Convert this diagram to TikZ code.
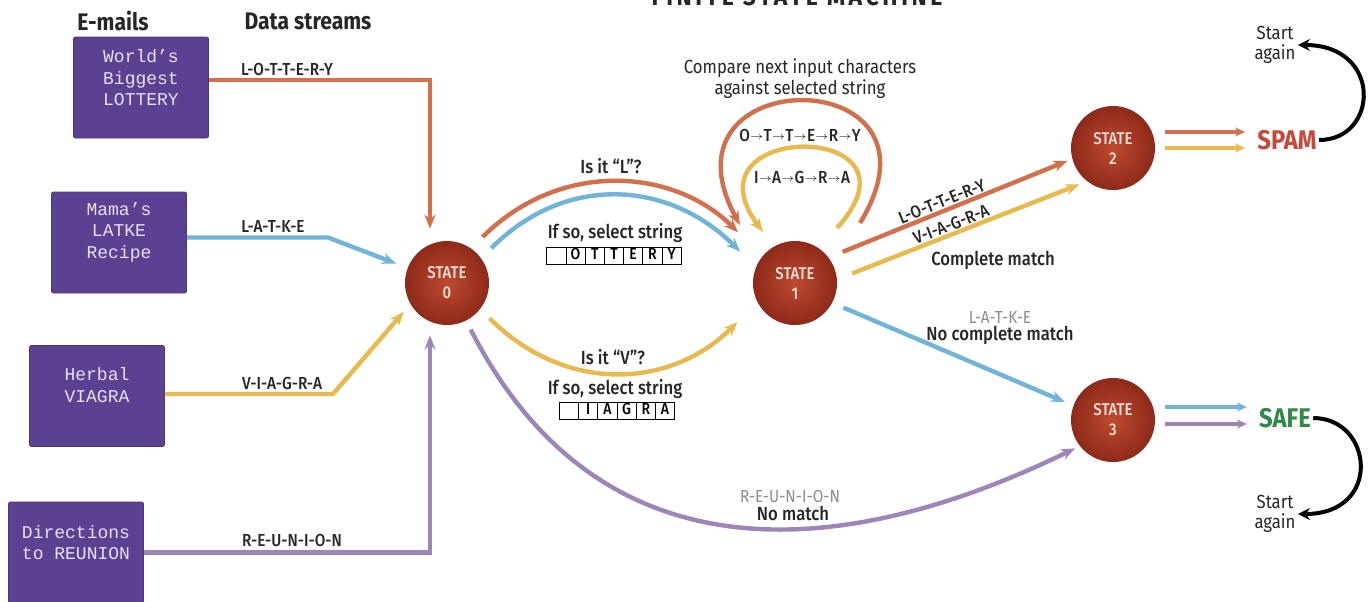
\documentclass[tikz,border=0pt]{standalone}
\usepackage{fontspec}
\setmainfont{Fira Sans}[FakeStretch=0.88]
\newfontfamily\medfont{Fira Sans Medium}[FakeStretch=0.88]
\newfontfamily\boxfont{Liberation Mono}
\usepackage{array}
\usetikzlibrary{arrows.meta, positioning, shapes}

\definecolor{lottoline}{HTML}{D2704E}
\definecolor{latkeline}{HTML}{72B3D8}
\definecolor{viagraline}{HTML}{E7B94E}
\definecolor{reunionline}{HTML}{9C86B8}
\definecolor{mailpurple}{HTML}{5B4192}
\definecolor{mailwhite}{HTML}{E6E1F0}
\definecolor{stateinner}{HTML}{BD4A30}
\definecolor{stateouter}{HTML}{8E2A19}
\definecolor{statetext}{HTML}{F3DED6}
\definecolor{spamred}{HTML}{C8473B}
\definecolor{safegreen}{HTML}{2F8A47}
\definecolor{greylabel}{HTML}{8C8C8C}

\newcommand{\nextch}{\raisebox{0.6pt}{\fontsize{5}{5}\selectfont$\rightarrow$}}
\newcommand{\strbox}[2]{{\medfont\fontsize{8}{9.6}\selectfont\setlength\tabcolsep{0pt}\renewcommand\arraystretch{0.85}%
  \begin{tabular}{|*{#1}{wc{9.2pt}|}}\hline #2\\\hline\end{tabular}}}

\begin{document}
\begin{tikzpicture}[
  x=0.5pt, y=0.5pt,
  header/.style={font=\bfseries\fontsize{12}{14}\selectfont, text=black!85},
  mailbox/.style={fill=mailpurple, draw=mailpurple!80!black, rounded corners=1pt, minimum width=67.5pt, minimum height=50.5pt}, % e-mail boxes
  mailtext/.style={font=\boxfont\fontsize{9}{10.75}\selectfont, text=mailwhite, align=center},
  state/.style={circle, inner color=stateinner, outer color=stateouter, minimum size=42pt, inner sep=0pt, align=center, text=statetext, font=\medfont\fontsize{8.5}{10}\selectfont},
  stream/.style={line width=2.2pt, -{Stealth[length=7pt,width=5.5pt]}},
  ministream/.style={line width=1.7pt, -{Stealth[length=5pt,width=4.5pt]}},
  charlabel/.style={font=\medfont\fontsize{8.7}{10}\selectfont, text=black!85, inner sep=1.5pt},
  greynote/.style={font=\fontsize{8.7}{10}\selectfont, text=greylabel, inner sep=1pt},
  note/.style={font=\medfont\fontsize{9.5}{11}\selectfont, text=black!85, align=center, inner sep=1pt},
  plainnote/.style={font=\fontsize{9.5}{9.2}\selectfont, text=black!85, align=center},
  verdict/.style={font=\bfseries\fontsize{13.5}{15}\selectfont, inner sep=1pt},
  again/.style={font=\fontsize{9.5}{10}\selectfont, align=center, text=black!85, inner sep=1pt},
  return/.style={line width=2pt, -{Stealth[length=6pt,width=6pt]}}
]
\path[use as bounding box, fill=white] (0,0) rectangle (1369,-601);

% Headers
\node[font=\bfseries\fontsize{13}{15}\selectfont\addfontfeatures{LetterSpace=14}, anchor=base, text=black!85] (title) at (797,-5) {FINITE STATE MACHINE};
\node[header] (emails) at (113,-21) {E-mails};
\node[header] (streams) at (308,-21) {Data streams};

% Define the e-mail boxes
\node[mailbox] (b1) at (141,-87.5) {};
\node[mailtext] (t1) at (141,-78) {World’s\\Biggest\\LOTTERY};
\node[mailbox] (b2) at (119,-242.5) {};
\node[mailtext] (t2) at (119,-232) {Mama’s\\LATKE\\Recipe};
\node[mailbox] (b3) at (97,-396) {};
\node[mailtext] (t3) at (97,-385) {Herbal\\VIAGRA};
\node[mailbox] (b4) at (76,-552.5) {};
\node[mailtext] (t4) at (76,-542.5) {Directions\\to REUNION};

% States
\node[state] (s0) at (447,-283) {STATE\\0};
\node[state] (s1) at (795,-283) {STATE\\1};
\node[state] (s2) at (1113,-148) {STATE\\2};
\node[state] (s3) at (1113,-420) {STATE\\3};

% Data streams into STATE 0
\coordinate (latkebend) at (328,-237.5);
\coordinate (viagrabend) at (333,-394);
\draw[stream, lottoline] ([yshift=3.75pt]b1.east) -| ([xshift=-8.5pt,yshift=6pt]s0.north);
\draw[stream, latkeline, shorten >=6pt] (b2.east |- latkebend) -- (latkebend) -- (s0);
\draw[stream, viagraline, shorten >=5pt] (b3.east |- viagrabend) -- (viagrabend) -- (s0.210);
\draw[stream, reunionline] (b4.east) -| ([xshift=-8.5pt,yshift=-5pt]s0.south);
\node[charlabel] (lottolbl) at (287,-69) {L-O-T-T-E-R-Y};
\node[charlabel] (latkelbl) at (273,-226) {L-A-T-K-E};
\node[charlabel] (viagralbl) at (282,-383) {V-I-A-G-R-A};
\node[charlabel] (reunionlbl) at (292,-540) {R-E-U-N-I-O-N};

% STATE 0 -> STATE 1 and STATE 3
\draw[stream, lottoline, shorten <=8pt, shorten >=17pt] (s0.55) to[out=45, in=135, looseness=1.1] (s1.141);
\draw[stream, latkeline, shorten <=7pt, shorten >=11pt] (s0.36) to[out=45, in=135, looseness=1.13] (s1.158);
\draw[stream, viagraline, shorten <=6.5pt, shorten >=14pt] (s0.-38) to[out=-45, in=-135, looseness=1.12] (s1.207);
\draw[stream, reunionline, shorten <=5pt, shorten >=2.5pt] (s0.-63) to[out=-63, in=206, looseness=1.15] (s3.218);
\node[note] (isl) at (611,-166) {Is it “L”?};
\node[note] (sell) at (615,-233) {If so, select string};
\node[inner sep=0pt] (cellsl) at (614,-256) {\strbox{7}{ & O & T & T & E & R & Y}};
\node[note] (isv) at (613,-357) {Is it “V”?};
\node[note] (selv) at (615,-389) {If so, select string};
\node[inner sep=0pt] (cellsv) at (617,-411) {\strbox{6}{ & I & A & G & R & A}};
\node[greynote] (reunionno) at (790,-496) {R-E-U-N-I-O-N};
\node[note] (nomatch) at (793,-513) {No match};

% Loops on STATE 1
\coordinate (ottr) at (860,-223);
\coordinate (ottl) at (740,-225);
\coordinate (iagr) at (837,-228);
\coordinate (iagl) at (763,-232);
\draw[stream, lottoline] (ottr) .. controls (960,-60) and (650,-60) .. (ottl);
\draw[stream, viagraline] (iagr) .. controls (935,-120) and (680,-120) .. (iagl);
\node[plainnote] (compare) at (800,-79) {Compare next input characters\\against selected string};
\node[charlabel] (ottlbl) at (800,-135) {O\nextch T\nextch T\nextch E\nextch R\nextch Y};
\node[charlabel] (iaglbl) at (802,-177) {I\nextch A\nextch G\nextch R\nextch A};

% STATE 1 -> STATE 2 and STATE 3
\draw[stream, lottoline, shorten <=7.5pt, shorten >=2.5pt] (s1.37) -- (s2.195)
  node[charlabel, inner sep=0.5pt, pos=0.48, sloped, above] (lottomatch) {L-O-T-T-E-R-Y};
\draw[stream, viagraline, shorten <=8pt, shorten >=4pt] (s1.5) -- (s2.232)
  node[charlabel, inner sep=0.5pt, pos=0.47, sloped, above] (viagramatch) {V-I-A-G-R-A};
\node[note] (complete) at (993,-260) {Complete match};
\draw[stream, latkeline, shorten <=6pt, shorten >=4.5pt] (s1.-28) -- (s3.160);
\node[greynote] (latkeno) at (1000,-317) {L-A-T-K-E};
\node[note] (nocomplete) at (1000,-335) {No complete match};

% Verdicts
\node[verdict, text=spamred] (spam) at (1287,-140) {SPAM};
\node[verdict, text=safegreen] (safe) at (1285,-418) {SAFE};
\draw[ministream, lottoline] ([xshift=5pt,yshift=8pt]s2.east) -- ([xshift=-5pt,yshift=4pt]spam.west);
\draw[ministream, viagraline] ([xshift=5pt]s2.east) -- ([xshift=-5pt,yshift=-4pt]spam.west);
\draw[ministream, latkeline] ([xshift=5pt,yshift=6.5pt]s3.east) -- ([xshift=-5pt,yshift=5.5pt]safe.west);
\draw[ministream, reunionline] ([xshift=5pt,yshift=-2pt]s3.east) -- ([xshift=-5pt,yshift=-3pt]safe.west);
\node[again] (again1) at (1275,-45) {Start\\again};
\node[again] (again2) at (1275,-514) {Start\\again};
\draw[return] (spam.east) .. controls +(60,0) and +(85,0) .. (again1.east);
\draw[return] (safe.east) .. controls +(60,0) and +(85,0) .. (again2.east);
\end{tikzpicture}
\end{document}
